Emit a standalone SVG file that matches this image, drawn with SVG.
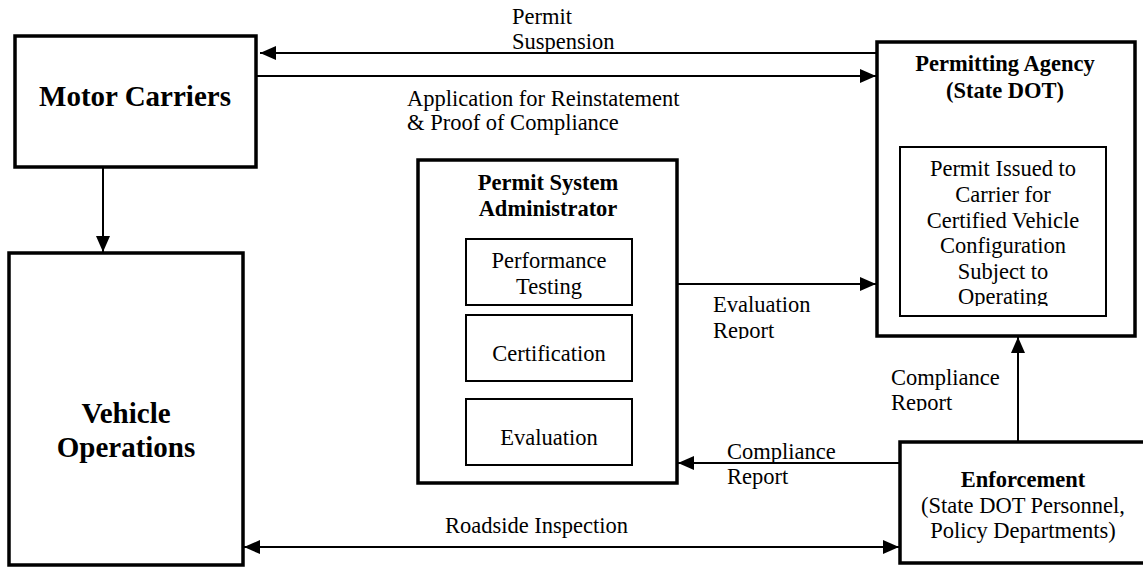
<svg xmlns="http://www.w3.org/2000/svg" width="1143" height="567" viewBox="0 0 1143 567">
<style>
.box{fill:#fff;stroke:#000;stroke-width:3.5}
.inner{fill:#fff;stroke:#000;stroke-width:2}
.t{font-family:"Liberation Serif","Times New Roman",serif;font-size:22.5px;fill:#000}
.b{font-weight:bold}
.big{font-family:"Liberation Serif","Times New Roman",serif;font-size:29px;font-weight:bold;fill:#000}
.c{text-anchor:middle}
.ln{stroke:#000;stroke-width:2;fill:none}
</style>
<defs>
<marker id="ah" markerUnits="userSpaceOnUse" markerWidth="16" markerHeight="14" refX="16" refY="7" orient="auto-start-reverse">
<path d="M0,0 L16,7 L0,14 z" fill="#000"/>
</marker>
<clipPath id="clipEval"><rect x="700" y="290" width="120" height="49"/></clipPath>
<clipPath id="clipOper"><rect x="900" y="150" width="206" height="156"/></clipPath>
<clipPath id="clipComp"><rect x="880" y="360" width="120" height="51"/></clipPath>
</defs>
<rect width="1143" height="567" fill="#fff"/>

<g id="connectors">
<line class="ln" x1="877" y1="53" x2="260" y2="53" marker-end="url(#ah)"/>
<line class="ln" x1="256" y1="76" x2="876" y2="76" marker-end="url(#ah)"/>
<line class="ln" x1="103" y1="168" x2="103" y2="252" marker-end="url(#ah)"/>
<line class="ln" x1="677" y1="284" x2="876" y2="284" marker-end="url(#ah)"/>
<line class="ln" x1="1018" y1="441" x2="1018" y2="337" marker-end="url(#ah)"/>
<line class="ln" x1="900" y1="463" x2="678" y2="463" marker-end="url(#ah)"/>
<line class="ln" x1="244" y1="547" x2="899" y2="547" marker-start="url(#ah)" marker-end="url(#ah)"/>
<text class="t" x="512" y="24">Permit</text>
<text class="t" x="512" y="49">Suspension</text>
<text class="t" x="407" y="106">Application for Reinstatement</text>
<text class="t" x="407" y="130">&amp; Proof of Compliance</text>
<g clip-path="url(#clipEval)">
<text class="t" x="713" y="312">Evaluation</text>
<text class="t" x="713" y="338">Report</text>
</g>
<g clip-path="url(#clipComp)">
<text class="t" x="891" y="385">Compliance</text>
<text class="t" x="891" y="410">Report</text>
</g>
<text class="t" x="727" y="459">Compliance</text>
<text class="t" x="727" y="484">Report</text>
<text class="t" x="445" y="533">Roadside Inspection</text>
</g>

<g id="motor-carriers">
<rect class="box" x="15" y="36" width="241" height="131"/>
<text class="big c" x="135" y="106">Motor Carriers</text>
</g>

<g id="vehicle-operations">
<rect class="box" x="9" y="253" width="234" height="312"/>
<text class="big c" x="126" y="423">Vehicle</text>
<text class="big c" x="126" y="457">Operations</text>
</g>

<g id="permitting-agency">
<rect class="box" x="877" y="42" width="258" height="294"/>
<text class="t b c" x="1005" y="71">Permitting Agency</text>
<text class="t b c" x="1005" y="98">(State DOT)</text>
<g id="permit-issued">
<rect class="inner" x="900" y="147" width="206" height="169"/>
<g clip-path="url(#clipOper)">
<text class="t c" x="1003" y="176">Permit Issued to</text>
<text class="t c" x="1003" y="202">Carrier for</text>
<text class="t c" x="1003" y="228">Certified Vehicle</text>
<text class="t c" x="1003" y="253">Configuration</text>
<text class="t c" x="1003" y="279">Subject to</text>
<text class="t c" x="1003" y="304">Operating</text>
</g>
</g>
</g>

<g id="permit-system-administrator">
<rect class="box" x="418" y="160" width="259" height="323"/>
<text class="t b c" x="548" y="190">Permit System</text>
<text class="t b c" x="548" y="216">Administrator</text>
<g id="performance-testing">
<rect class="inner" x="466" y="239" width="166" height="66"/>
<text class="t c" x="549" y="268">Performance</text>
<text class="t c" x="549" y="294">Testing</text>
</g>
<g id="certification">
<rect class="inner" x="466" y="315" width="166" height="66"/>
<text class="t c" x="549" y="361">Certification</text>
</g>
<g id="evaluation">
<rect class="inner" x="466" y="399" width="166" height="66"/>
<text class="t c" x="549" y="445">Evaluation</text>
</g>
</g>

<g id="enforcement">
<rect class="box" x="900" y="442" width="260" height="121"/>
<text class="t b c" x="1023" y="487">Enforcement</text>
<text class="t c" x="1023" y="513">(State DOT Personnel,</text>
<text class="t c" x="1023" y="538">Policy Departments)</text>
</g>
</svg>
